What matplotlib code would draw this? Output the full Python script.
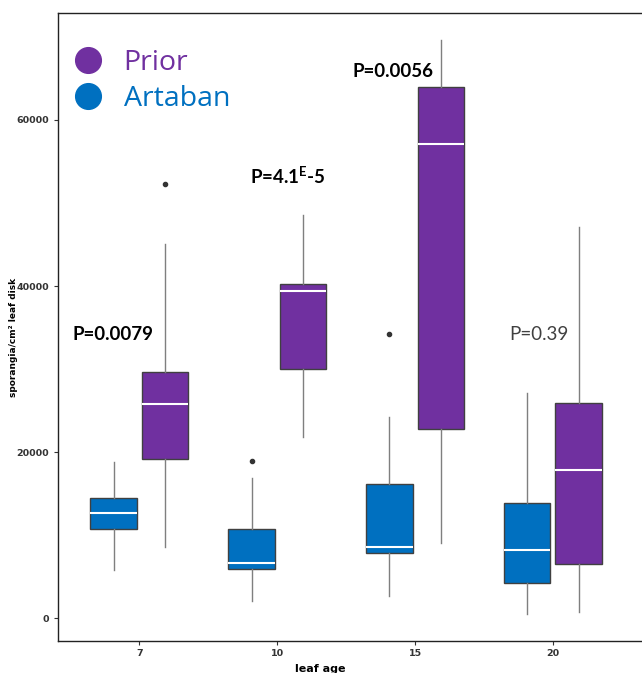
import numpy as np
import matplotlib
matplotlib.use('Agg')
import matplotlib.pyplot as plt
from matplotlib.lines import Line2D

# Data
leaf_age = ['7', '10', '15', '20']

artaban_lo = [5780, 2050, 2650, 450]
artaban_q1 = [10720, 5900, 7860, 4180]
artaban_med = [12650, 6630, 8580, 8190]
artaban_q3 = [14460, 10720, 16140, 13820]
artaban_hi = [18800, 16870, 24270, 27140]
artaban_out = [[], [18920], [34220], []]

prior_lo = [8550, 21810, 8980, 690]
prior_q1 = [19160, 30000, 22750, 6510]
prior_med = [25780, 39400, 57160, 17800]
prior_q3 = [29640, 40240, 64020, 25870]
prior_hi = [45060, 48550, 69590, 47070]
prior_out = [[52290], [], [], []]

p_labels = ['P=0.0079', r'P=4.1$^{\mathsf{E}}$-5', 'P=0.0056', 'P=0.39']
p_y = [34200, 53250, 65900, 34200]

purple = '#7030A0'
blue = '#0070C0'

plt.rcParams['mathtext.fontset'] = 'custom'
plt.rcParams['mathtext.sf'] = 'Lato:bold'

def stats(lo, q1, med, q3, hi, out):
    return [dict(whislo=lo[i], q1=q1[i], med=med[i], q3=q3[i], whishi=hi[i],
                 fliers=out[i], label=leaf_age[i]) for i in range(len(lo))]

fig = plt.figure(figsize=(6.42, 6.73), dpi=100)
ax = fig.add_axes([0.0896, 0.0475, 0.95, 0.9332])

x = np.arange(len(leaf_age))
off = 0.186
width = 0.336

for st, pos, col in [(stats(artaban_lo, artaban_q1, artaban_med, artaban_q3, artaban_hi, artaban_out), x - off, blue),
                     (stats(prior_lo, prior_q1, prior_med, prior_q3, prior_hi, prior_out), x + off, purple)]:
    ax.bxp(st, positions=pos, widths=width, patch_artist=True, showcaps=False,
           boxprops=dict(facecolor=col, edgecolor='#404040', linewidth=1),
           medianprops=dict(color='white', linewidth=1.5),
           whiskerprops=dict(color='#7f7f7f', linewidth=1),
           flierprops=dict(marker='o', markersize=3, markerfacecolor='#333333',
                           markeredgecolor='#333333'),
           manage_ticks=False)

p_x = [-0.19, 1.08, 1.84, 2.90]
for i, lab in enumerate(p_labels):
    if i < 3:
        ax.text(p_x[i], p_y[i], lab, ha='center', va='center', fontsize=13.5,
                fontweight='bold', family='Lato', color='black')
    else:
        ax.text(p_x[i], p_y[i], lab, ha='center', va='center', fontsize=13.5,
                family='Lato', color='#404040')

ax.set_xlim(-0.593, 3.58 + 0.25)
ax.set_ylim(-2771, 72890)
ax.set_xticks(x)
ax.set_xticklabels(leaf_age)
ax.set_yticks([0, 20000, 40000, 60000])
for t in ax.get_xticklabels() + ax.get_yticklabels():
    t.set_family(['Liberation Sans Narrow', 'DejaVu Sans'])
    t.set_fontweight('bold')
    t.set_fontsize(6.8)
    t.set_color('#333333')
ax.tick_params(length=3, width=0.8, color='#333333', pad=3)

ax.set_xlabel('leaf age', fontsize=8, fontweight='bold',
              family=['Liberation Sans Narrow', 'DejaVu Sans'])
ax.xaxis.set_label_coords(0.43, -0.036)
ax.set_ylabel('sporangia/cm² leaf disk', fontsize=6.5,
              fontweight='bold', family=['Liberation Sans Narrow', 'DejaVu Sans'])
ax.yaxis.set_label_coords(-0.064, 0.484)

for s in ax.spines.values():
    s.set_linewidth(1)
    s.set_color('#222222')
ax.spines['right'].set_visible(False)

handles = [Line2D([], [], marker='o', linestyle='', markersize=18.5,
                  markerfacecolor=purple, markeredgecolor=purple, label='Prior'),
           Line2D([], [], marker='o', linestyle='', markersize=18.5,
                  markerfacecolor=blue, markeredgecolor=blue, label='Artaban')]
leg = ax.legend(handles=handles, loc='upper left', bbox_to_anchor=(-0.02, 0.975),
                frameon=False, prop=dict(family='Open Sans', size=20.5),
                labelcolor='markerfacecolor', handletextpad=0.45,
                handlelength=1.6, labelspacing=0.3, borderaxespad=0.3)

fig.savefig('out.png', dpi=100)
